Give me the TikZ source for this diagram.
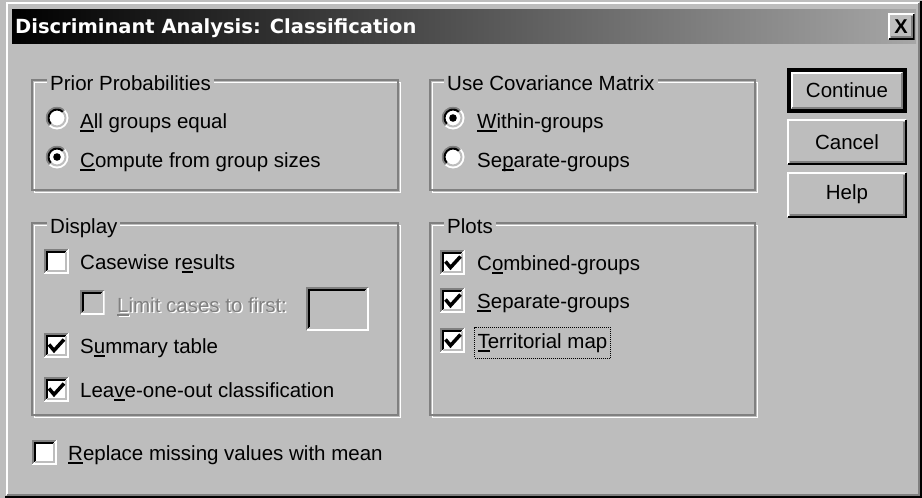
\documentclass[tikz,border=0pt]{standalone}
\usepackage{fontspec}
\setmainfont{Liberation Sans}
\newfontfamily\captionfont{DejaVu Sans}

\definecolor{face}{HTML}{BDBDBD}
\definecolor{shadow}{HTML}{808080}
\definecolor{barend}{HTML}{A6A6A6}

% 3d edge of a control: inset, upper-left colour, lower-right colour
\newcommand{\bevel}[3]{%
  \draw[#2, line width=2pt] ([shift={(#1+1pt,#1+1pt)}]path picture bounding box.south west)
    |- ([shift={(-#1-1pt,-#1-1pt)}]path picture bounding box.north east);
  \draw[#3, line width=2pt] ([shift={(#1+1pt,#1+1pt)}]path picture bounding box.south west)
    -| ([shift={(-#1-1pt,-#1-1pt)}]path picture bounding box.north east);}
% sunken ring of an option button
\newcommand{\ring}{%
  \draw[shadow, line width=2pt] (path picture bounding box.center) ++(45:10.5pt) arc[start angle=45, end angle=225, radius=10.5pt];
  \draw[black, line width=2pt] (path picture bounding box.center) ++(45:8.5pt) arc[start angle=45, end angle=225, radius=8.5pt];
  \draw[face, line width=2pt] (path picture bounding box.center) ++(225:8.5pt) arc[start angle=225, end angle=405, radius=8.5pt];}
\newcommand{\tickmark}{%
  \draw[black, line width=3.5pt] ([shift={(-7pt,1pt)}]path picture bounding box.center) -- ++(5pt,-6pt) -- ++(10pt,11pt);}
% underlined access key
\newcommand{\accel}[1]{\setbox0\hbox{#1}\rlap{\rule[-3.5pt]{\wd0}{1.8pt}}#1}

\begin{document}
\begin{tikzpicture}[x=1pt, y=-1pt]
	\tikzstyle{Text} = [anchor=base west, inner sep=0pt, font=\fontsize{20.5}{24}\selectfont]
	\tikzstyle{Caption} = [Text, fill=face, inner xsep=3pt]
	\tikzstyle{Frame} = [draw=shadow, line width=2pt, preaction={draw=white, transform canvas={xshift=2pt, yshift=-2pt}}]
	\tikzstyle{Box} = [rectangle, minimum size=25pt, inner sep=0pt, fill=white, path picture={\bevel{0pt}{shadow}{white}\bevel{2pt}{black}{face}}]
	\tikzstyle{Ticked} = [Box, path picture={\bevel{0pt}{shadow}{white}\bevel{2pt}{black}{face}\tickmark}]
	\tikzstyle{Radio} = [circle, minimum size=23pt, inner sep=0pt, fill=white, path picture={\ring}]
	\tikzstyle{RadioOn} = [Radio, path picture={\ring\fill[black] (path picture bounding box.center) circle (3.8pt);}]
	\tikzstyle{Button} = [rectangle, minimum width=120pt, minimum height=46pt, inner sep=0pt, fill=face, font=\fontsize{20.5}{24}\selectfont, path picture={\bevel{0pt}{white}{black}\bevel{2pt}{face}{shadow}}]
	\tikzstyle{Default} = [Button, minimum width=116pt, minimum height=41pt, draw=black, line width=4pt, path picture={\bevel{2pt}{white}{shadow}}]

	\useasboundingbox (0,0) rectangle (922,498);
	\fill[face] (0,0) rectangle (922,498);
	\node (window) [rectangle, minimum width=918pt, minimum height=498pt, inner sep=0pt, path picture={\bevel{0pt}{face}{black}\bevel{2pt}{white}{shadow}}] at (463,249) {};

	% title bar
	\shade[left color=black, right color=barend] (12,9) rectangle (916,43);
	\node (title) [anchor=base west, inner sep=0pt, text=white, font=\captionfont\bfseries\fontsize{19.5}{19.5}\selectfont] at (15,33) {Discriminant Analysis: Classification};
	\node (close) [Button, minimum width=27pt, minimum height=27pt, font=\bfseries\fontsize{20}{20}\selectfont] at (901,26.5) {X};

	% group frames
	\draw[Frame] (32,80) rectangle (398,190);
	\draw[Frame] (430,80) rectangle (755,190);
	\draw[Frame] (32,223) rectangle (398,415);
	\draw[Frame] (430,223) rectangle (755,415);
	\node (prior) [Caption] at (47,90) {Prior Probabilities};
	\node (covar) [Caption] at (444,90) {Use Covariance Matrix};
	\node (display) [Caption] at (47,233) {Display};
	\node (plots) [Caption] at (444,233) {Plots};

	% prior probabilities
	\node (equal) [Radio] at (57,118) {};
	\node (equalTxt) [Text] at (80,128) {\accel{A}ll groups equal};
	\node (sizes) [RadioOn] at (57,157) {};
	\node (sizesTxt) [Text] at (80,167) {\accel{C}ompute from group sizes};

	% covariance matrix
	\node (within) [RadioOn] at (453,118) {};
	\node (withinTxt) [Text] at (477,128) {\accel{W}ithin-groups};
	\node (sepcov) [Radio] at (453,157) {};
	\node (sepcovTxt) [Text] at (477,167) {Se\accel{p}arate-groups};

	% display
	\node (casewise) [Box] at (56,261) {};
	\node (casewiseTxt) [Text] at (80,269) {Casewise r\accel{e}sults};
	\node (limit) [Box, fill=face] at (92,302.5) {};
	\node (limitSh) [Text, text=white] at (118.5,313.5) {\accel{L}imit cases to first:};
	\node (limitTxt) [Text, text=shadow] at (117,312) {\accel{L}imit cases to first:};
	\node (first) [Box, fill=face, minimum width=63pt, minimum height=44pt] at (337.5,309) {};
	\node (summary) [Ticked] at (56,345.5) {};
	\node (summaryTxt) [Text] at (80,353) {S\accel{u}mmary table};
	\node (leave) [Ticked] at (56,389.5) {};
	\node (leaveTxt) [Text] at (80,397) {Lea\accel{v}e-one-out classification};

	% plots
	\node (combined) [Ticked] at (452.5,262.5) {};
	\node (combinedTxt) [Text] at (477,270) {C\accel{o}mbined-groups};
	\node (separate) [Ticked] at (452.5,300.5) {};
	\node (separateTxt) [Text] at (477,308) {\accel{S}eparate-groups};
	\node (territ) [Ticked] at (452.5,340.5) {};
	\node (territTxt) [Text, draw=black, densely dotted, line width=1pt, inner xsep=3pt, minimum height=31pt] at (474,348) {\accel{T}erritorial map};

	% replace missing
	\node (replace) [Box] at (44.5,452.5) {};
	\node (replaceTxt) [Text] at (68,460) {\accel{R}eplace missing values with mean};

	% buttons
	\node (continue) [Default] at (847,90.5) {Continue};
	\node (cancel) [Button] at (847,142) {Cancel};
	\node (help) [Button] at (847,194.5) {Help};
\end{tikzpicture}
\end{document}
